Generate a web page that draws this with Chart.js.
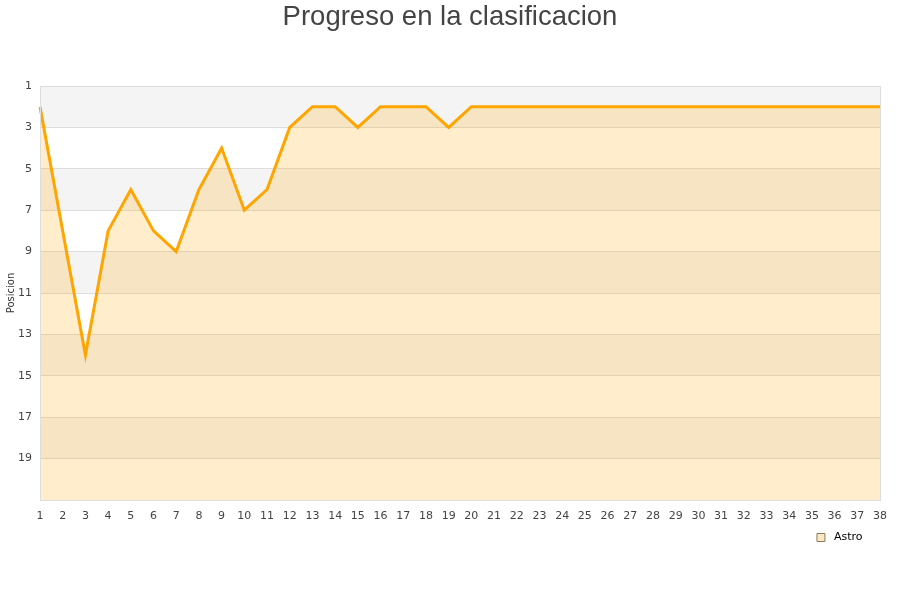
<!DOCTYPE html>
<html>
<head>
<meta charset="utf-8">
<script src="https://cdn.jsdelivr.net/npm/chart.js@4/dist/chart.umd.min.js"></script>
<style>
  html, body { margin: 0; padding: 0; background: #fff; }
  #wrap { width: 900px; height: 600px; }
</style>
</head>
<body>
<div id="wrap"><canvas id="c" width="900" height="600"></canvas></div>
<script>
const jornadas = ["1","2","3","4","5","6","7","8","9","10","11","12","13","14","15","16","17","18","19","20","21","22","23","24","25","26","27","28","29","30","31","32","33","34","35","36","37","38"];
const posicionAstro = [2,8,14,8,6,8,9,6,4,7,6,3,2,2,3,2,2,2,3,2,2,2,2,2,2,2,2,2,2,2,2,2,2,2,2,2,2,2];
const yTicks = [1,3,5,7,9,11,13,15,17,19];
const bandRanges = [[1,3],[5,7],[9,11],[13,15],[17,19]];

const bandsPlugin = {
  id: 'bands',
  beforeDraw(chart) {
    const {ctx, chartArea: a, scales: {y}} = chart;
    ctx.save();
    ctx.fillStyle = '#f4f4f4';
    bandRanges.forEach(([f, t]) => {
      const y1 = y.getPixelForValue(f), y2 = y.getPixelForValue(t);
      ctx.fillRect(a.left, Math.min(y1, y2), a.right - a.left, Math.abs(y2 - y1));
    });
    ctx.restore();
  },
  afterDatasetsDraw(chart) {
    const {ctx, chartArea: a} = chart;
    ctx.save();
    ctx.strokeStyle = '#dddddd';
    ctx.lineWidth = 1;
    ctx.strokeRect(Math.round(a.left) + 0.5, Math.round(a.top) + 0.5, Math.round(a.right - a.left), Math.round(a.bottom - a.top));
    ctx.restore();
  }
};

new Chart(document.getElementById('c'), {
  type: 'line',
  data: {
    labels: jornadas,
    datasets: [{
      label: 'Astro',
      data: posicionAstro,
      borderColor: '#ffa500',
      backgroundColor: 'rgba(255,165,0,0.2)',
      borderWidth: 3,
      fill: 'start',
      tension: 0,
      pointRadius: 0,
      pointHoverRadius: 0
    }]
  },
  options: {
    responsive: false,
    animation: false,
    devicePixelRatio: 1,
    layout: { padding: { top: 0, left: 10, right: 10, bottom: 47 } },
    plugins: {
      title: {
        display: true,
        text: 'Progreso en la clasificacion',
        color: '#444444',
        font: { family: '"Liberation Sans", Arial, sans-serif', size: 27.5, weight: 'normal' },
        padding: { top: 1, bottom: 52 }
      },
      legend: {
        display: true,
        position: 'bottom',
        align: 'end',
        labels: {
          boxWidth: 8,
          boxHeight: 8,
          color: '#222',
          font: { family: '"DejaVu Sans", sans-serif', size: 11 },
          generateLabels(chart) {
            return chart.data.datasets.map((d, i) => ({
              text: ' ' + d.label + '     ',
              fillStyle: '#fde8c4',
              strokeStyle: '#8a7a60',
              lineWidth: 1,
              hidden: false,
              datasetIndex: i
            }));
          }
        }
      },
      tooltip: { enabled: false }
    },
    scales: {
      x: {
        offset: false,
        grid: { display: false },
        border: { display: false },
        ticks: {
          color: '#444',
          font: { family: '"DejaVu Sans", sans-serif', size: 11 },
          maxRotation: 0,
          autoSkip: false,
          padding: 2
        },
        afterFit(s) { s.height = 22; s.paddingRight = 20; s.paddingLeft = 0; }
      },
      y: {
        reverse: true,
        min: 1,
        max: 21,
        afterBuildTicks(s) { s.ticks = yTicks.map(v => ({ value: v })); },
        grid: { color: '#dddddd', lineWidth: 1, drawTicks: false },
        border: { display: false },
        ticks: {
          color: '#444',
          font: { family: '"DejaVu Sans", sans-serif', size: 11 },
          padding: 8
        },
        title: {
          display: true,
          text: 'Posicion',
          color: '#333',
          font: { family: '"DejaVu Sans", sans-serif', size: 10 },
          padding: { top: -5, bottom: 0 }
        },
        afterFit(s) { s.width = 30; }
      }
    }
  },
  plugins: [bandsPlugin]
});
</script>
</body>
</html>
